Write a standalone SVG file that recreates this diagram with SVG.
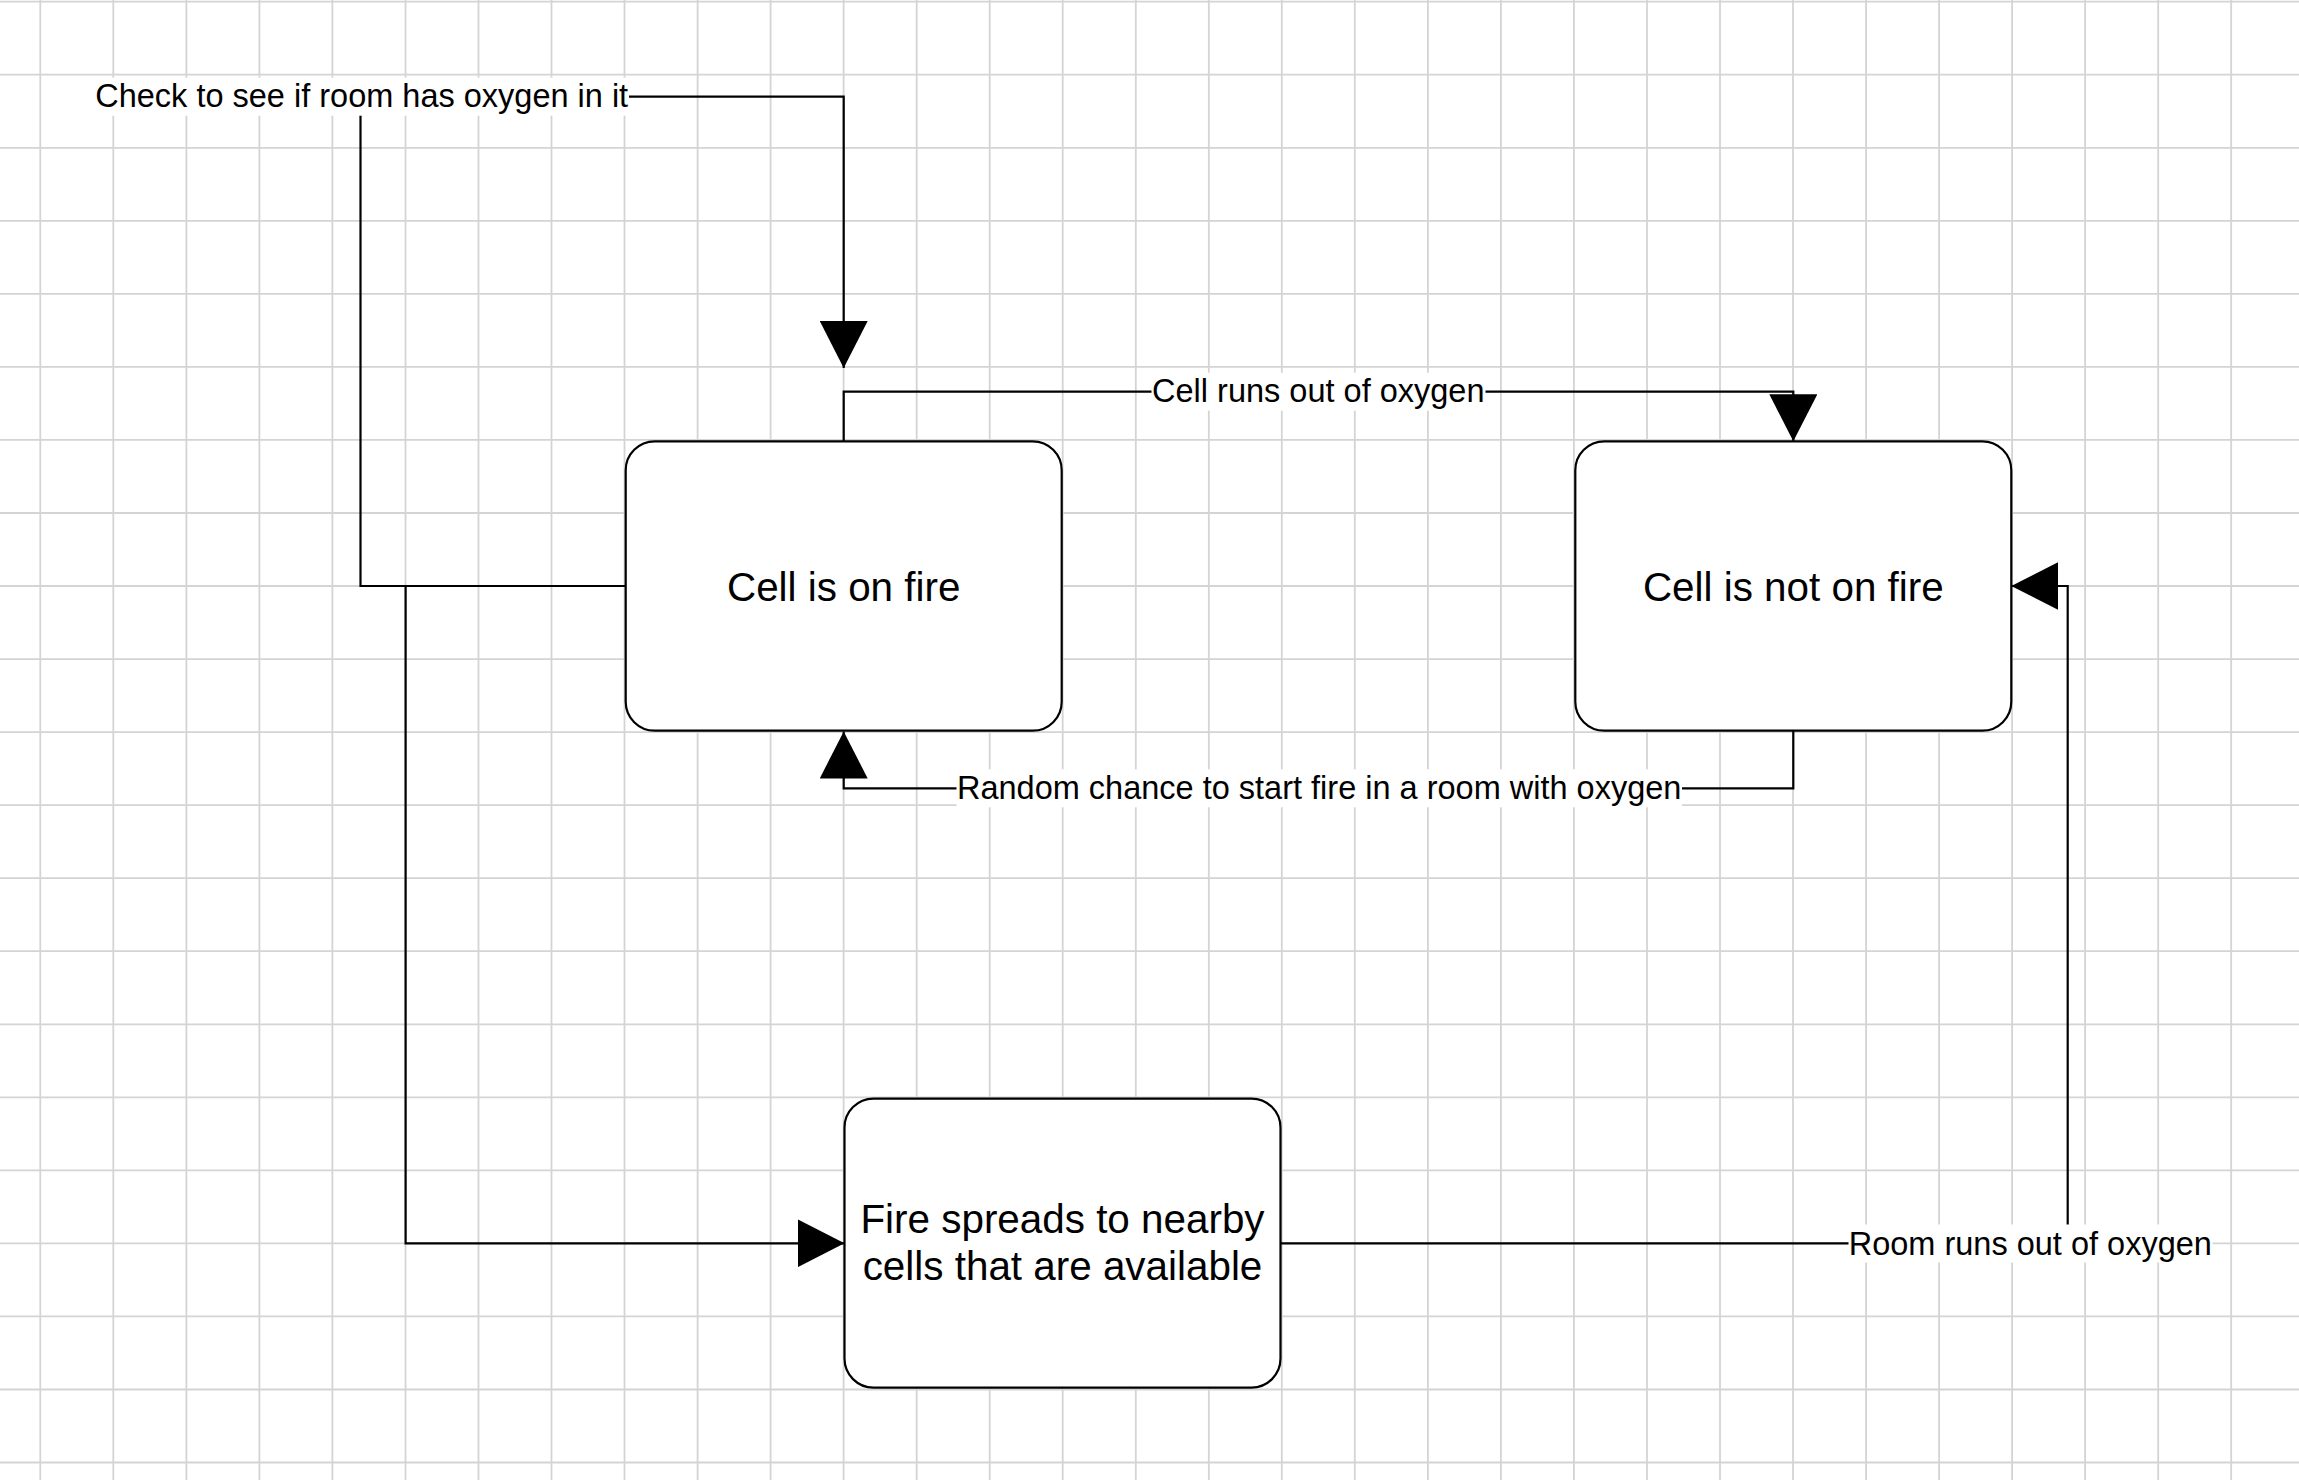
<svg xmlns="http://www.w3.org/2000/svg" width="2299" height="1480" viewBox="0 0 2299 1480">
  <style>
    .grid { stroke: #d4d4d4; stroke-width: 1.8; fill: none; }
    .node rect { fill: #ffffff; stroke: #000000; stroke-width: 2.2; }
    .node text { font-family: "Liberation Sans", Arial, Helvetica, sans-serif; font-size: 40.4px; fill: #000000; text-anchor: middle; }
    .edge { fill: none; stroke: #000000; stroke-width: 2.2; marker-end: url(#arrow); }
    .label rect { fill: #ffffff; stroke: none; }
    .label text { font-family: "Liberation Sans", Arial, Helvetica, sans-serif; font-size: 32.5px; fill: #000000; text-anchor: middle; }
  </style>
  <defs>
    <marker id="arrow" markerUnits="userSpaceOnUse" viewBox="0 0 48 48" markerWidth="48" markerHeight="48" refX="47" refY="24" orient="auto">
      <path d="M0,0 L47,24 L0,48 Z" fill="#000000"/>
    </marker>
  </defs>

  <!-- background and grid -->
  <rect x="0" y="0" width="2299" height="1480" fill="#ffffff"/>
  <path class="grid" d="
    M40.3,0V1480 M113.3,0V1480 M186.4,0V1480 M259.4,0V1480 M332.4,0V1480 M405.5,0V1480
    M478.5,0V1480 M551.5,0V1480 M624.5,0V1480 M697.6,0V1480 M770.6,0V1480 M843.6,0V1480
    M916.7,0V1480 M989.7,0V1480 M1062.7,0V1480 M1135.8,0V1480 M1208.8,0V1480 M1281.8,0V1480
    M1354.8,0V1480 M1427.9,0V1480 M1500.9,0V1480 M1573.9,0V1480 M1647,0V1480 M1720,0V1480
    M1793,0V1480 M1866.1,0V1480 M1939.1,0V1480 M2012.1,0V1480 M2085.1,0V1480 M2158.2,0V1480
    M2231.2,0V1480
    M0,1.7H2299 M0,74.7H2299 M0,147.8H2299 M0,220.8H2299 M0,293.9H2299 M0,366.9H2299
    M0,439.9H2299 M0,513H2299 M0,586H2299 M0,659.1H2299 M0,732.1H2299 M0,805.1H2299
    M0,878.2H2299 M0,951.2H2299 M0,1024.3H2299 M0,1097.3H2299 M0,1170.3H2299 M0,1243.4H2299
    M0,1316.4H2299 M0,1389.5H2299 M0,1462.5H2299"/>

  <!-- connectors -->
  <g id="connectors">
    <path id="edge-check-oxygen" class="edge" d="M625.7,586 H360.5 V96.7 H843.7 V368"/>
    <path id="edge-spread" class="edge" d="M625.7,586 H405.6 V1243.3 H844.5"/>
    <path id="edge-cell-out" class="edge" d="M843.7,441.3 V391.7 H1793.3 V441.3"/>
    <path id="edge-random-start" class="edge" d="M1793.3,730.7 V788.3 H843.7 V731.5"/>
    <path id="edge-room-out" class="edge" d="M1280.5,1243.3 H2067.7 V586 H2011.3"/>

    <g class="label">
      <rect x="94.5" y="77.7" width="534.5" height="38"/>
      <text x="361.7" y="107">Check to see if room has oxygen in it</text>
    </g>
    <g class="label">
      <rect x="1151.5" y="372.7" width="334" height="38"/>
      <text x="1318.3" y="402.3">Cell runs out of oxygen</text>
    </g>
    <g class="label">
      <rect x="956.5" y="769.3" width="725.5" height="38"/>
      <text x="1319.2" y="799.3">Random chance to start fire in a room with oxygen</text>
    </g>
    <g class="label">
      <rect x="1848.5" y="1224.5" width="364" height="38"/>
      <text x="2030.3" y="1255">Room runs out of oxygen</text>
    </g>
  </g>

  <!-- nodes -->
  <g id="node-on-fire" class="node">
    <rect x="625.7" y="441.3" width="436" height="289.4" rx="29" ry="29"/>
    <text x="843.7" y="600.5">Cell is on fire</text>
  </g>
  <g id="node-not-on-fire" class="node">
    <rect x="1575.3" y="441.3" width="436" height="289.4" rx="29" ry="29"/>
    <text x="1793.3" y="600.5">Cell is not on fire</text>
  </g>
  <g id="node-spreads" class="node">
    <rect x="844.5" y="1098.6" width="436" height="289" rx="29" ry="29"/>
    <text x="1062.5" y="1232.7">Fire spreads to nearby</text>
    <text x="1062.5" y="1280">cells that are available</text>
  </g>
</svg>
